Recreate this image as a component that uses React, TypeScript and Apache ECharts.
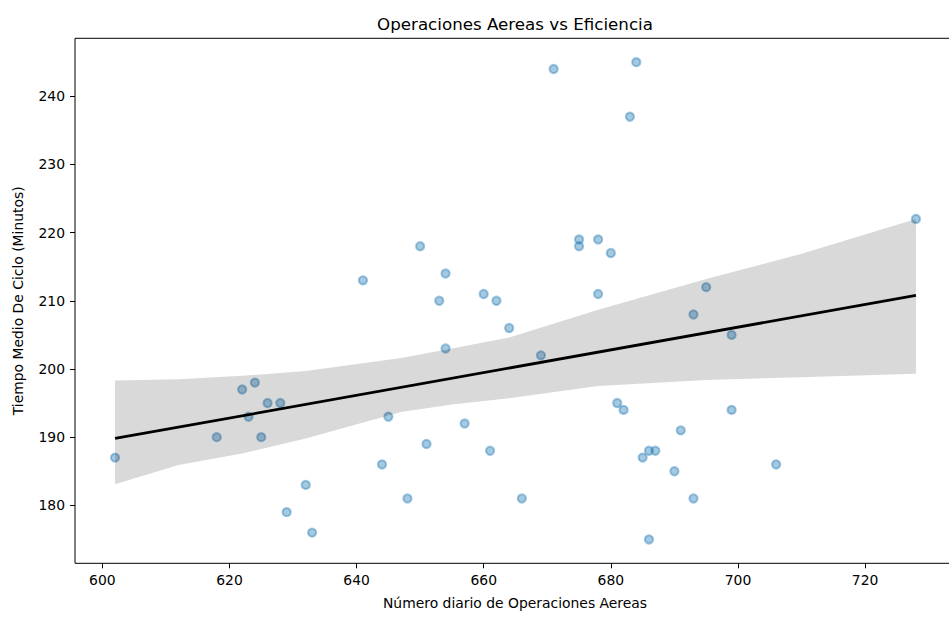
import React, { useEffect, useRef } from "react";
import * as echarts from "echarts";

const operaciones = [
  602, 618, 622, 623, 624, 625, 626, 628, 629, 632, 633, 641, 644, 645, 648, 650, 651,
  653, 654, 654, 657, 660, 661, 662, 664, 666, 669, 671, 675, 675, 678, 678, 680, 681,
  682, 683, 684, 685, 686, 686, 687, 690, 691, 693, 693, 695, 699, 699, 706, 728,
];
const tiempo = [
  187, 190, 197, 193, 198, 190, 195, 195, 179, 183, 176, 213, 186, 193, 181, 218, 189,
  210, 214, 203, 192, 211, 188, 210, 206, 181, 202, 244, 219, 218, 219, 211, 217, 195,
  194, 237, 245, 187, 188, 175, 188, 185, 191, 208, 181, 212, 205, 194, 186, 222,
];

// 95% confidence band
const bandX = [602, 612, 622, 632, 647, 655, 664, 678, 695, 710, 728];
const bandLower = [183.1, 185.9, 187.6, 189.8, 193.7, 194.8, 195.7, 197.5, 198.4, 198.8, 199.3];
const bandUpper = [198.3, 198.5, 199.0, 199.7, 201.6, 203.0, 204.6, 208.7, 213.2, 216.9, 222.0];

const xTicks = [600, 620, 640, 660, 680, 700, 720];
const yTicks = [180, 190, 200, 210, 220, 230, 240];

const FONT = "DejaVu Sans";

function fitLine(xs: number[], ys: number[]) {
  const n = xs.length;
  const mx = xs.reduce((a, b) => a + b, 0) / n;
  const my = ys.reduce((a, b) => a + b, 0) / n;
  let sxy = 0;
  let sxx = 0;
  for (let i = 0; i < n; i++) {
    sxy += (xs[i] - mx) * (ys[i] - my);
    sxx += (xs[i] - mx) * (xs[i] - mx);
  }
  const slope = sxy / sxx;
  return { slope, intercept: my - slope * mx };
}

export default function App() {
  const ref = useRef<HTMLDivElement>(null);

  useEffect(() => {
    if (!ref.current) return;
    const chart = echarts.init(ref.current, undefined, { renderer: "svg" });
    const { slope, intercept } = fitLine(operaciones, tiempo);
    const xMin = Math.min(...operaciones);
    const xMax = Math.max(...operaciones);
    const lineData = [
      [xMin, intercept + slope * xMin],
      [xMax, intercept + slope * xMax],
    ];
    const scatterData = operaciones.map((x, i) => [x, tiempo[i]]);

    const axisCommon = {
      axisLine: { show: false },
      splitLine: { show: false },
      axisTick: { show: true, inside: false, length: 5, lineStyle: { color: "#000", width: 1 } },
    };

    chart.setOption({
      animation: false,
      backgroundColor: "#ffffff",
      grid: {
        left: 75,
        top: 38.3,
        width: 881,
        height: 525,
        show: true,
        borderColor: "#000",
        borderWidth: 1,
        backgroundColor: "transparent",
        containLabel: false,
        outerBoundsMode: "none",
      },
      xAxis: {
        type: "value",
        min: 595.7,
        max: 734.3,
        ...axisCommon,
        axisTick: { ...axisCommon.axisTick, customValues: xTicks },
        axisLabel: {
          customValues: xTicks,
          margin: 10,
          color: "#000",
          fontFamily: FONT,
          fontSize: 13.9,
        },
      },
      yAxis: {
        type: "value",
        min: 171.5,
        max: 248.5,
        ...axisCommon,
        axisTick: { ...axisCommon.axisTick, customValues: yTicks },
        axisLabel: {
          customValues: yTicks,
          margin: 10,
          color: "#000",
          fontFamily: FONT,
          fontSize: 13.9,
        },
      },
      graphic: [
        {
          type: "text",
          x: 515,
          y: 23.5,
          style: {
            text: "Operaciones Aereas vs Eficiencia",
            fontFamily: FONT,
            fontSize: 16.7,
            fill: "#000",
            align: "center",
            verticalAlign: "middle",
          },
        },
        {
          type: "text",
          x: 515,
          y: 603,
          style: {
            text: "Número diario de Operaciones Aereas",
            fontFamily: FONT,
            fontSize: 13.9,
            fill: "#000",
            align: "center",
            verticalAlign: "middle",
          },
        },
        {
          type: "text",
          x: 18,
          y: 300.8,
          rotation: Math.PI / 2,
          style: {
            text: "Tiempo Medio De Ciclo (Minutos)",
            fontFamily: FONT,
            fontSize: 13.9,
            fill: "#000",
            align: "center",
            verticalAlign: "middle",
          },
        },
      ],
      series: [
        {
          type: "scatter",
          data: scatterData,
          symbol: "circle",
          symbolSize: 8.3,
          z: 2,
          itemStyle: {
            color: "rgba(31,119,180,0.5)",
            borderColor: "rgba(31,119,180,0.5)",
            borderWidth: 2,
          },
        },
        {
          type: "custom",
          z: 3,
          data: [[bandX[0], bandLower[0]]],
          renderItem: (params: any, api: any) => {
            if (params.dataIndex !== 0) return null;
            const pts: number[][] = [];
            for (let i = 0; i < bandX.length; i++) pts.push(api.coord([bandX[i], bandUpper[i]]));
            for (let i = bandX.length - 1; i >= 0; i--) pts.push(api.coord([bandX[i], bandLower[i]]));
            return {
              type: "polygon",
              shape: { points: pts },
              style: { fill: "rgba(0,0,0,0.15)", stroke: "none" },
            };
          },
        },
        {
          type: "line",
          data: lineData,
          z: 4,
          symbol: "none",
          lineStyle: { color: "#000", width: 2.8 },
        },
      ],
    });

    return () => chart.dispose();
  }, []);

  return (
    <div
      ref={ref}
      style={{ position: "absolute", left: 0, top: 0, width: 949, height: 617 }}
    />
  );
}
